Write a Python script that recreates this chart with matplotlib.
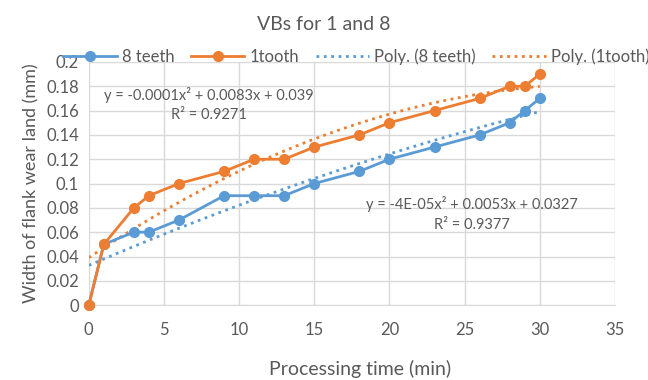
import numpy as np
import matplotlib.pyplot as plt

plt.rcParams['font.family'] = ['Lato', 'DejaVu Sans']

# processing time (min)
time_min = [0, 1, 3, 4, 6, 9, 11, 13, 15, 18, 20, 23, 26, 28, 29, 30]
# flank wear width (mm)
vb_8teeth = [0, 0.05, 0.06, 0.06, 0.07, 0.09, 0.09, 0.09, 0.10, 0.11, 0.12, 0.13, 0.14, 0.15, 0.16, 0.17]
vb_1tooth = [0, 0.05, 0.08, 0.09, 0.10, 0.11, 0.12, 0.12, 0.13, 0.14, 0.15, 0.16, 0.17, 0.18, 0.18, 0.19]

blue = '#5B9BD5'
orange = '#ED7D31'
txt = '#595959'

fig = plt.figure(figsize=(6.48, 3.80), dpi=100)
ax = fig.add_axes([0.137, 0.197, 0.812, 0.640])

ax.plot(time_min, vb_8teeth, '-o', color=blue, lw=2, ms=7, label='8 teeth', zorder=3, clip_on=False)
ax.plot(time_min, vb_1tooth, '-o', color=orange, lw=2, ms=7, label='1tooth', zorder=3, clip_on=False)

# 2nd order trendlines
xs = np.linspace(0, 30, 100)
p8 = np.polyfit(time_min, vb_8teeth, 2)
p1 = np.polyfit(time_min, vb_1tooth, 2)
ax.plot(xs, np.polyval(p8, xs), ':', color=blue, lw=2, label='Poly. (8 teeth)', zorder=2)
ax.plot(xs, np.polyval(p1, xs), ':', color=orange, lw=2, label='Poly. (1tooth)', zorder=2)

ax.text(8.0, 0.173, 'y = -0.0001x² + 0.0083x + 0.039', ha='center', va='center', fontsize=10.5, color=txt)
ax.text(8.0, 0.156, 'R² = 0.9271', ha='center', va='center', fontsize=10.5, color=txt)
ax.text(25.5, 0.083, 'y = -4E-05x² + 0.0053x + 0.0327', ha='center', va='center', fontsize=10.5, color=txt)
ax.text(25.5, 0.066, 'R² = 0.9377', ha='center', va='center', fontsize=10.5, color=txt)

ax.set_xlim(0, 35)
ax.set_ylim(0, 0.2)
ax.set_xticks(range(0, 36, 5))
ax.set_yticks(np.arange(0, 0.201, 0.02))
ax.set_yticklabels(['0', '0.02', '0.04', '0.06', '0.08', '0.1', '0.12', '0.14', '0.16', '0.18', '0.2'])
ax.grid(True, color='#D9D9D9', lw=1)
ax.set_axisbelow(True)
for s in ['top', 'right', 'left']:
    ax.spines[s].set_visible(False)
ax.spines['bottom'].set_color('#D9D9D9')
ax.tick_params(length=0, labelsize=12, colors=txt)
ax.tick_params(axis='x', pad=12)
ax.tick_params(axis='y', pad=7)

ax.set_ylabel('Width of flank wear land (mm)', fontsize=13, color=txt, labelpad=5)
fig.text(0.555, 0.03, 'Processing time (min)', ha='center', va='center', fontsize=14, color=txt)
fig.text(0.5, 0.935, 'VBs for 1 and 8', ha='center', va='center', fontsize=14, color=txt)

fig.legend(loc='center', bbox_to_anchor=(0.55, 0.85), ncol=4, frameon=False,
           fontsize=12, handlelength=3.2, columnspacing=1.0, handletextpad=0.3,
           labelcolor=txt)

fig.savefig('out.png', dpi=100)
